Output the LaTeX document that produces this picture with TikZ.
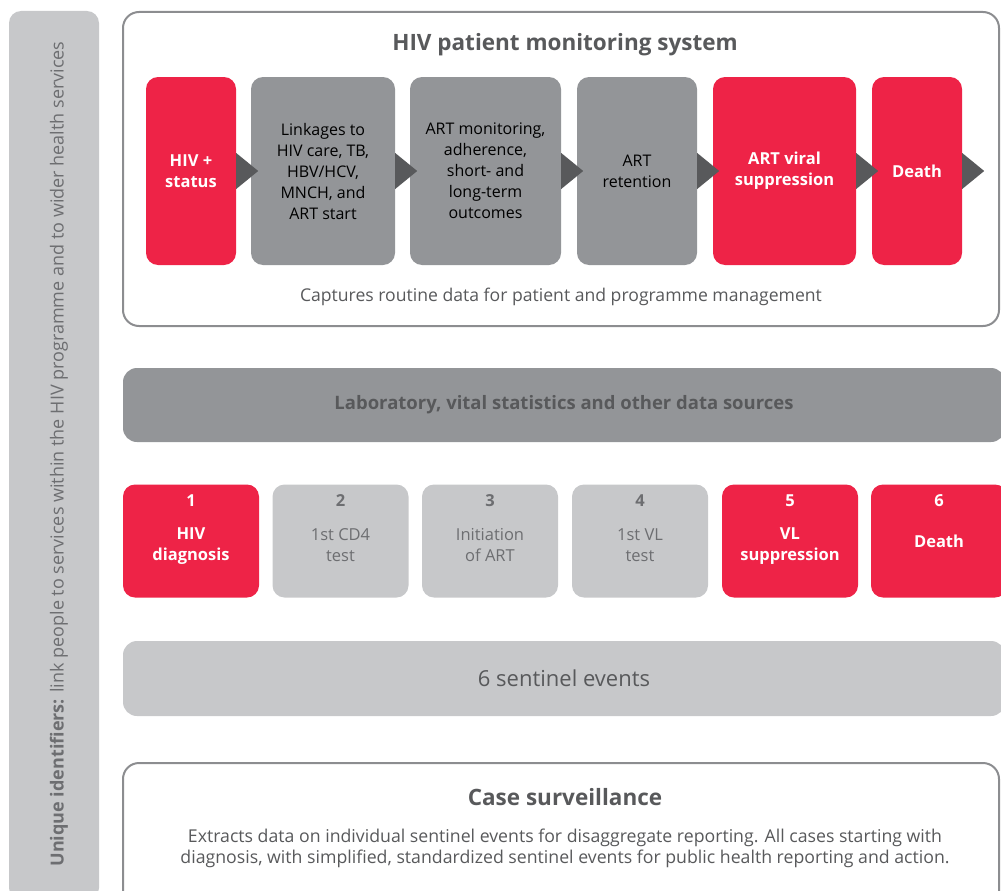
\documentclass[tikz,border=0pt]{standalone}
\usepackage{fontspec}
\setmainfont{Open Sans}
\usetikzlibrary{positioning,calc}

\definecolor{hivred}{HTML}{EE2347}
\definecolor{darkgrey}{HTML}{939598}
\definecolor{lightgrey}{HTML}{C7C8CA}
\definecolor{arrowgrey}{HTML}{58595B}
\definecolor{framegrey}{HTML}{8C8D90}
\definecolor{textgrey}{HTML}{58595B}
\definecolor{softgrey}{HTML}{6D6E71}

\tikzset{
    stage/.style={rounded corners=12pt, minimum height=188pt, inner sep=0pt, align=center},
    redstage/.style={stage, fill=hivred, text=white, font=\fontsize{16.5}{21}\selectfont\bfseries},
    greystage/.style={stage, fill=darkgrey, text=black, font=\fontsize{16}{21}\selectfont},
    event/.style={rounded corners=12pt, minimum width=136pt, minimum height=113pt, inner sep=0pt, align=center},
    redevent/.style={event, fill=hivred, text=white, font=\fontsize{16.5}{21}\selectfont\bfseries},
    greyevent/.style={event, fill=lightgrey, text=softgrey, font=\fontsize{16.5}{21}\selectfont},
    frame/.style={draw=framegrey, line width=2pt, rounded corners=16pt, inner sep=0pt},
    bar/.style={rounded corners=14pt, minimum width=882pt, inner sep=0pt}
}

\begin{document}
\begin{tikzpicture}[x=1pt, y=-1pt]
    \useasboundingbox (0,0) rectangle (1001,891);
    \clip (0,0) rectangle (1001,891);

    % Unique identifiers
    \fill[lightgrey, rounded corners=12pt] (9,11) rectangle (99,900);
    \node (uid) at (59,454) [rotate=90, text=softgrey, font=\fontsize{18}{20}\selectfont]
        {\textbf{Unique identifiers:} link people to services within the HIV programme and to wider health services};

    % HIV patient monitoring system
    \draw[frame] (123,12) rectangle (999,326);
    \node (pmstitle) at (565,45) [text=textgrey, font=\fontsize{22.5}{28}\selectfont\bfseries] {HIV patient monitoring system};
    \node (hiv) at (191,171) [redstage, minimum width=90pt] {HIV +\\status};
    \node (link) at (323,171) [greystage, minimum width=144pt] {Linkages to\\HIV care, TB,\\HBV/HCV,\\MNCH, and\\ART start};
    \node (artmon) at (485.5,171) [greystage, minimum width=151pt] {ART monitoring,\\adherence,\\short- and\\long-term\\outcomes};
    \node (artret) at (637,171) [greystage, minimum width=120pt] {ART\\retention};
    \node (artvs) at (784.5,171) [redstage, minimum width=143pt] {ART viral\\suppression};
    \node (death) at (917,171) [redstage, minimum width=90pt] {Death};
    \foreach \a in {hiv,link,artmon,artret,artvs,death}
        \fill[arrowgrey] ($(\a.east)+(0,-18)$) -- ($(\a.east)+(22,0)$) -- ($(\a.east)+(0,18)$) -- cycle;
    \node (pmscap) at (561,297) [text=textgrey, font=\fontsize{17.6}{20}\selectfont] {Captures routine data for patient and programme management};

    % Other data sources
    \node (lab) at (564,405) [bar, fill=darkgrey, minimum height=74pt, text=textgrey, font=\fontsize{18.5}{22}\selectfont\bfseries]
        {Laboratory, vital statistics and other data sources};

    % Sentinel events
    \node (s1) at (191,541) [redevent, label={[anchor=north, yshift=-7pt, text=white, font=\fontsize{16.5}{20}\selectfont\bfseries]north:1}] {\\HIV\\diagnosis};
    \node (s2) at (340.5,541) [greyevent, label={[anchor=north, yshift=-7pt, text=softgrey, font=\fontsize{16.5}{20}\selectfont\bfseries]north:2}] {\\1st CD4\\test};
    \node (s3) at (490,541) [greyevent, label={[anchor=north, yshift=-7pt, text=softgrey, font=\fontsize{16.5}{20}\selectfont\bfseries]north:3}] {\\Initiation\\of ART};
    \node (s4) at (640,541) [greyevent, label={[anchor=north, yshift=-7pt, text=softgrey, font=\fontsize{16.5}{20}\selectfont\bfseries]north:4}] {\\1st VL\\test};
    \node (s5) at (790,541) [redevent, label={[anchor=north, yshift=-7pt, text=white, font=\fontsize{16.5}{20}\selectfont\bfseries]north:5}] {\\VL\\suppression};
    \node (s6) at (939,541) [redevent, label={[anchor=north, yshift=-7pt, text=white, font=\fontsize{16.5}{20}\selectfont\bfseries]north:6}] {Death};

    \node (sent) at (564,678.5) [bar, fill=lightgrey, minimum height=75pt, text=textgrey, font=\fontsize{22}{26}\selectfont]
        {6 sentinel events};

    % Case surveillance
    \draw[frame] (123,763) rectangle (999,920);
    \node (cstitle) at (565,797) [text=textgrey, font=\fontsize{22.5}{28}\selectfont\bfseries] {Case surveillance};
    \node (cstext) at (565,848) [text=textgrey, align=center, font=\fontsize{17.7}{21}\selectfont]
        {Extracts data on individual sentinel events for disaggregate reporting. All cases starting with\\
         diagnosis, with simplified, standardized sentinel events for public health reporting and action.};
\end{tikzpicture}
\end{document}
